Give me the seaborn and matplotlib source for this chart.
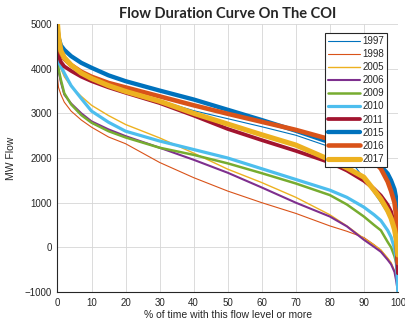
import numpy as np
import pandas as pd
import matplotlib
matplotlib.use('Agg')
import matplotlib.pyplot as plt
import seaborn as sns

# percent of time axis, shared by all years
pct = [0, 0.3, 1, 2, 4, 7, 10, 15, 20, 30, 40, 50, 60, 70, 80, 85, 90, 93, 95, 97, 98, 99, 99.5, 100]

# MW flow, one list per year
flow_1997 = [4500, 4300, 4150, 4070, 3950, 3840, 3750, 3620, 3500, 3290, 3060, 2880, 2700, 2510, 2250, 2050, 1550, 1220, 1000, 760, 620, 420, 250, 0]
flow_1998 = [3800, 3580, 3420, 3250, 3050, 2850, 2690, 2470, 2320, 1900, 1560, 1260, 1000, 760, 480, 360, 220, 60, -60, -250, -360, -540, -720, -980]
flow_2005 = [4350, 4150, 4000, 3820, 3600, 3380, 3180, 2950, 2750, 2450, 2110, 1750, 1450, 1120, 730, 480, 200, 50, -60, -240, -340, -520, -700, -950]
flow_2006 = [4150, 3950, 3700, 3420, 3220, 3000, 2820, 2640, 2490, 2230, 1960, 1670, 1340, 1000, 690, 470, 170, 10, -100, -280, -380, -550, -750, -1000]
flow_2009 = [4200, 4000, 3750, 3450, 3200, 2960, 2790, 2600, 2460, 2230, 2070, 1880, 1660, 1430, 1170, 960, 690, 500, 380, 120, 0, -200, -350, -650]
flow_2010 = [4300, 4150, 4050, 3900, 3620, 3330, 3050, 2800, 2600, 2380, 2190, 2000, 1760, 1520, 1280, 1120, 900, 730, 600, 380, 230, -20, -250, -1000]
flow_2011 = [4600, 4300, 4150, 4050, 3950, 3820, 3720, 3580, 3460, 3230, 2950, 2650, 2400, 2160, 1900, 1720, 1490, 1310, 1160, 950, 800, 500, 100, -580]
flow_2015 = [4900, 4700, 4520, 4420, 4280, 4130, 4020, 3850, 3720, 3510, 3310, 3080, 2850, 2610, 2350, 2210, 2030, 1900, 1820, 1650, 1500, 1300, 1100, 500]
flow_2016 = [4900, 4600, 4350, 4220, 4080, 3930, 3820, 3680, 3580, 3380, 3180, 2990, 2810, 2630, 2420, 2280, 2080, 1920, 1760, 1470, 1260, 1000, 700, -350]
flow_2017 = [5000, 4700, 4400, 4250, 4080, 3900, 3780, 3620, 3490, 3270, 3000, 2760, 2520, 2290, 1960, 1780, 1570, 1280, 1080, 820, 650, 400, 200, -170]

years = ['1997', '1998', '2005', '2006', '2009', '2010', '2011', '2015', '2016', '2017']
flows = [flow_1997, flow_1998, flow_2005, flow_2006, flow_2009,
         flow_2010, flow_2011, flow_2015, flow_2016, flow_2017]

# MATLAB default colour order, wrapping after seven
colors = ['#0072BD', '#D95319', '#EDB120', '#7E2F8E', '#77AC30',
          '#4DBEEE', '#A2142F', '#0072BD', '#D95319', '#EDB120']
widths = [0.8, 0.8, 1.0, 1.5, 1.8, 2.3, 2.7, 3.1, 3.3, 3.7]

sns.set_style('white')
plt.rcParams['font.family'] = ['Liberation Sans', 'DejaVu Sans']

fig = plt.figure(figsize=(4.06, 3.26), dpi=100)
ax = fig.add_axes([0.1416, 0.1043, 0.8384, 0.8221])

for year, flow, c, w in zip(years, flows, colors, widths):
    sns.lineplot(x=pct, y=flow, color=c, linewidth=w, label=year, ax=ax)

ax.set_xlim(0, 100)
ax.set_ylim(-1000, 5000)
ax.set_xticks(range(0, 101, 10))
ax.set_yticks(range(-1000, 5001, 1000))
ax.grid(True, color='#d6d6d6', linewidth=0.6)
ax.set_axisbelow(True)
for side in ['top', 'right']:
    ax.spines[side].set_visible(False)
for side in ['left', 'bottom']:
    ax.spines[side].set_color('#262626')
    ax.spines[side].set_linewidth(0.8)
ax.tick_params(direction='in', length=3, width=0.6, colors='#262626',
               labelsize=7, pad=4)

ax.set_xlabel('% of time with this flow level or more', fontsize=7.5,
              color='#262626', labelpad=2)
ax.set_ylabel('MW Flow', fontsize=7.5, color='#262626', labelpad=6)
ax.set_title('Flow Duration Curve On The COI', fontsize=10.5,
             fontweight='bold', family=['Lato', 'DejaVu Sans'], pad=4)

leg = ax.legend(loc='upper right', bbox_to_anchor=(0.9686, 0.9664),
                borderaxespad=0, fontsize=7, frameon=True, fancybox=False,
                handlelength=3.3, handletextpad=0.3, labelspacing=0.32,
                borderpad=0.3)
leg.get_frame().set_edgecolor('#262626')
leg.get_frame().set_linewidth(0.8)
leg.get_frame().set_alpha(1)

fig.savefig('out.png', dpi=100)
